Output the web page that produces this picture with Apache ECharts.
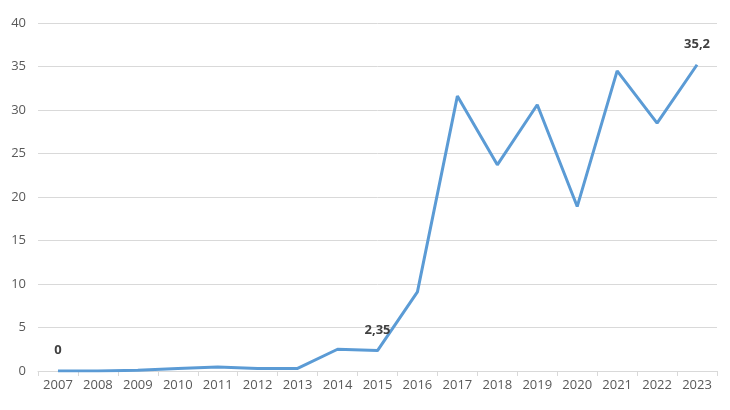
<!DOCTYPE html>
<html><head><meta charset="utf-8">
<script src="https://cdn.jsdelivr.net/npm/echarts@6/dist/echarts.min.js"></script>
<style>html,body{margin:0;padding:0;background:#fff}#c{width:730px;height:410px}</style>
</head><body><div id="c"></div>
<script>
const years = ['2007','2008','2009','2010','2011','2012','2013','2014','2015','2016','2017','2018','2019','2020','2021','2022','2023'];
const values = [0, 0, 0.1, 0.3, 0.45, 0.3, 0.3, 2.5, 2.35, 9.1, 31.6, 23.7, 30.6, 18.9, 34.5, 28.5, 35.2];
const labeledYears = ['2007','2015','2023'];
const yTicks = {min: 0, max: 40, interval: 5};

const chart = echarts.init(document.getElementById('c'));
const data = values.map((v, i) => ({
  value: v,
  label: {show: labeledYears.includes(years[i])}
}));
chart.setOption({
  animation: false,
  grid: {left: 38, right: 13, top: 23, bottom: 39},
  xAxis: {
    type: 'category', data: years, boundaryGap: true,
    axisLine: {lineStyle: {color: '#d9d9d9'}},
    axisTick: {show: true, alignWithLabel: false, length: 5, lineStyle: {color: '#d9d9d9'}},
    axisLabel: {color: '#595959', fontSize: 13, fontFamily: 'Open Sans', margin: 8}
  },
  yAxis: {
    type: 'value', min: yTicks.min, max: yTicks.max, interval: yTicks.interval,
    axisLine: {show: false}, axisTick: {show: false},
    splitLine: {lineStyle: {color: '#d9d9d9'}},
    axisLabel: {color: '#595959', fontSize: 13, fontFamily: 'Open Sans', margin: 12}
  },
  series: [{
    type: 'line', data: data, symbol: 'circle', symbolSize: 0, showSymbol: true,
    lineStyle: {color: '#5b9bd5', width: 3},
    itemStyle: {color: '#5b9bd5'},
    label: {position: 'top', distance: 14, color: '#404040', fontSize: 13, fontWeight: 'bold',
      fontFamily: 'Open Sans', formatter: p => String(p.value).replace('.', ',')}
  }]
});
</script></body></html>
